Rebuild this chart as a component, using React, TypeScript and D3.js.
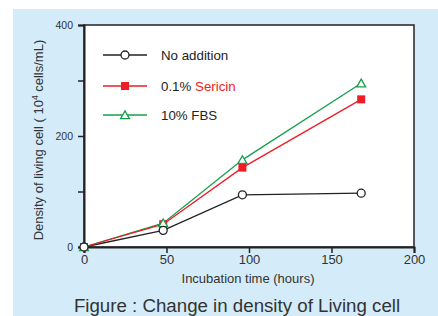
import React, { useEffect, useRef } from "react";
import * as d3 from "d3";

const hours = [0, 48, 96, 168];
const noAddition = [0, 30, 94, 97];
const sericin = [0, 41, 143, 266];
const fbs = [0, 43, 157, 295];
const xTicks = [0, 50, 100, 150, 200];
const yTicks = [0, 100, 200, 300, 400];
const yLabeled = [0, 200, 400];

const W = 438;
const H = 316;

export default function App() {
  const ref = useRef<SVGSVGElement>(null);

  useEffect(() => {
    const svg = d3.select(ref.current);
    svg.selectAll("*").remove();
    const font = "'Liberation Sans', Arial, sans-serif";

    svg.append("rect").attr("x", 13).attr("y", 9).attr("width", W - 13).attr("height", H - 9).attr("fill", "#d4ecf9");

    const x = d3.scaleLinear().domain([0, 200]).range([84, 414]);
    const y = d3.scaleLinear().domain([0, 400]).range([247, 25]);

    svg.append("rect")
      .attr("x", x(0)).attr("y", y(400))
      .attr("width", x(200) - x(0)).attr("height", y(0) - y(400))
      .attr("fill", "#fff").attr("stroke", "#222").attr("stroke-width", 1.5);

    const xAxis = svg.append("g").attr("transform", `translate(0,${y(0)})`)
      .call(d3.axisBottom(x).tickValues(xTicks).tickSize(6).tickPadding(2).tickFormat(d3.format("d")));
    xAxis.select(".domain").attr("stroke", "#222").attr("stroke-width", 2);
    xAxis.selectAll(".tick line").attr("stroke", "#222").attr("stroke-width", 1.5);
    xAxis.selectAll("text").attr("font-family", font).attr("font-size", 13).attr("fill", "#333");

    const yAxis = svg.append("g").attr("transform", `translate(${x(0)},0)`)
      .call(d3.axisLeft(y).tickValues(yTicks).tickSize(6).tickPadding(5)
        .tickFormat((d) => (yLabeled.includes(+d) ? String(d) : "")));
    yAxis.select(".domain").attr("stroke", "#222").attr("stroke-width", 2);
    yAxis.selectAll(".tick line").attr("stroke", "#222").attr("stroke-width", 1.5);
    yAxis.selectAll("text").attr("font-family", font).attr("font-size", 10.5).attr("fill", "#333");

    const series = [
      { name: "noAddition", values: noAddition, color: "#222", marker: "circle" },
      { name: "fbs", values: fbs, color: "#14a04a", marker: "triangle" },
      { name: "sericin", values: sericin, color: "#ee1c25", marker: "square" },
    ];

    const line = d3.line<number>().x((d, i) => x(hours[i])).y((d) => y(d));

    function drawMarker(g: any, cx: number, cy: number, kind: string, color: string) {
      if (kind === "circle") {
        g.append("circle").attr("cx", cx).attr("cy", cy).attr("r", 4)
          .attr("fill", "#fff").attr("stroke", color).attr("stroke-width", 1.3);
      } else if (kind === "square") {
        g.append("rect").attr("x", cx - 4).attr("y", cy - 4).attr("width", 8).attr("height", 8)
          .attr("fill", color);
      } else {
        g.append("path")
          .attr("d", d3.symbol(d3.symbolTriangle, 34)())
          .attr("transform", `translate(${cx},${cy + 1})`)
          .attr("fill", "#fff").attr("stroke", color).attr("stroke-width", 1.3);
      }
    }

    series.forEach((s) => {
      svg.append("path").datum(s.values).attr("d", line)
        .attr("fill", "none").attr("stroke", s.color).attr("stroke-width", 1.3);
    });
    [series[2], series[1], series[0]].forEach((s) => {
      const g = svg.append("g");
      s.values.forEach((v, i) => drawMarker(g, x(hours[i]), y(v), s.marker, s.color));
    });

    // legend
    const legend = [
      { marker: "circle", color: "#222", parts: [["No addition", "#222"]], yy: 55 },
      { marker: "square", color: "#ee1c25", parts: [["0.1% ", "#222"], ["Sericin", "#ee1c25"]], yy: 86 },
      { marker: "triangle", color: "#14a04a", parts: [["10% FBS", "#222"]], yy: 115 },
    ];
    legend.forEach((l) => {
      const g = svg.append("g");
      g.append("line").attr("x1", 103).attr("x2", 147).attr("y1", l.yy).attr("y2", l.yy)
        .attr("stroke", l.color).attr("stroke-width", 1.3);
      drawMarker(g, 125, l.yy, l.marker, l.color);
      const t = g.append("text").attr("x", 161).attr("y", l.yy + 5)
        .attr("font-family", font).attr("font-size", 13.3);
      l.parts.forEach((p) => t.append("tspan").attr("fill", p[1]).text(p[0]));
    });

    svg.append("text").attr("x", 248).attr("y", 283).attr("text-anchor", "middle")
      .attr("font-family", font).attr("font-size", 13).attr("fill", "#333")
      .text("Incubation time (hours)");

    const yt = svg.append("text").attr("transform", `translate(43,140) rotate(-90)`)
      .attr("text-anchor", "middle").attr("font-family", font).attr("font-size", 13).attr("fill", "#333");
    yt.append("tspan").text("Density of living cell ( 10");
    yt.append("tspan").attr("font-size", 8.5).attr("dy", -5).text("4");
    yt.append("tspan").attr("dy", 5).text(" cells/mL)");

    svg.append("text").attr("x", 237).attr("y", 312).attr("text-anchor", "middle")
      .attr("font-family", font).attr("font-size", 18.7).attr("fill", "#333")
      .text("Figure : Change in density of Living cell");
  }, []);

  return (
    <svg ref={ref} width={W} height={H} style={{ position: "absolute", left: 0, top: 0 }} />
  );
}
